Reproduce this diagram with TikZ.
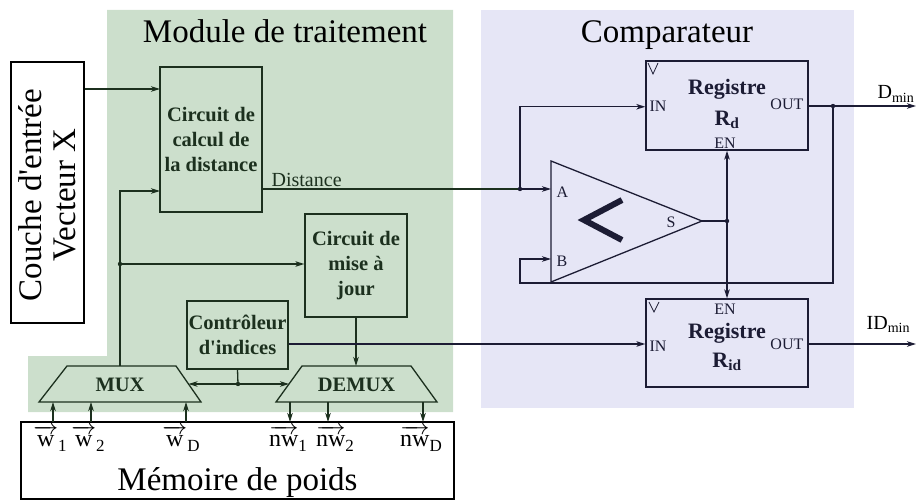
\documentclass[tikz,border=0pt]{standalone}
\usepackage{fontspec}
\setmainfont{Liberation Serif}
\usepackage{amsmath}
\usetikzlibrary{arrows.meta}
\definecolor{grn}{RGB}{204,223,204}
\definecolor{blu}{RGB}{230,230,246}
\definecolor{lg}{RGB}{28,48,30}
\definecolor{lb}{RGB}{28,28,52}
\newcommand\vlab[2]{$\overrightarrow{\text{#1}}$\raisebox{-5pt}{\fontsize{17}{17}\selectfont #2}}
\newcommand\ap{\textquotesingle}
\begin{document}
\begin{tikzpicture}[x=1pt,y=-1pt,line width=1.3pt,
  arr/.style={-{Stealth[length=9pt,width=5.5pt,inset=2.5pt]}},
  darr/.style={{Stealth[length=9pt,width=5.5pt,inset=2.5pt]}-{Stealth[length=9pt,width=5.5pt,inset=2.5pt]}},
  box/.style={draw,inner sep=0pt,align=center},
  bt/.style={font=\bfseries\fontsize{20.5}{25}\selectfont},
  big/.style={font=\fontsize{33}{34}\selectfont,inner sep=0pt},
  mid/.style={font=\fontsize{20}{24}\selectfont,inner sep=0pt},
  wl/.style={font=\fontsize{24}{26}\selectfont,inner sep=0pt},
  sm/.style={font=\fontsize{16}{18}\selectfont,inner sep=0pt},
  rg/.style={font=\bfseries\fontsize{22}{26}\selectfont,inner sep=0pt},
  clk/.style={line width=0.8pt}]
\useasboundingbox (0,0) rectangle (917,500);
% backgrounds
\fill[grn] (107,10) -- (453,10) -- (453,412) -- (28,412) -- (28,356) -- (107,356) -- cycle;
\fill[blu] (481,10) rectangle (854,408);
\node[big,anchor=base] (tmod) at (285,43) {Module de traitement};
\node[big,anchor=base] (tcmp) at (667,43) {Comparateur};

% input layer
\node[box,draw=black,fill=white,minimum width=73pt,minimum height=261pt] (couche) at (47.5,192.5) {};
\node[big,rotate=90,align=center] (tcouche) at (47,195) {Couche d\ap entrée\\Vecteur X};

% processing module
\begin{scope}[draw=lg,color=lg]
\node[box,bt,minimum width=102pt,minimum height=145pt] (calc) at (211,139.5) {Circuit de\\calcul de\\la distance};
\node[box,bt,minimum width=102pt,minimum height=103pt] (mise) at (356,265.5) {Circuit de\\mise à\\jour};
\node[box,bt,minimum width=101pt,minimum height=68pt] (ctrl) at (237.5,335) {Contrôleur\\d\ap indices};
\draw (67,366) -- (176,366) -- (201,402) -- (39,402) -- cycle;
\node[bt,inner sep=0pt] (mux) at (120,385) {MUX};
\draw (302,366) -- (411,366) -- (437,402) -- (276,402) -- cycle;
\node[bt,inner sep=0pt] (demux) at (356.5,385) {DEMUX};
\coordinate (muxtop) at (120,366);
\coordinate (muxr) at (188.5,384);
\coordinate (demuxl) at (289,384);
\coordinate (demuxtop) at (356,366);
\coordinate (j1) at (120,264);
\coordinate (cin1) at (160,89);
\coordinate (cin2) at (160,191);
\coordinate (cj) at (238,384);
\end{scope}

% memory
\node[box,draw=black,minimum width=433pt,minimum height=77pt] (mem) at (237.5,460.5) {};
\node[big,anchor=base] (tmem) at (237.5,490) {Mémoire de poids};
\foreach \x/\n in {53/a,91/b,186/c}{
  \coordinate (mu\n) at (\x,402);
  \coordinate (mm\n) at (\x,422);
}
\foreach \x/\n in {290/a,328/b,423/c}{
  \coordinate (du\n) at (\x,402);
  \coordinate (dm\n) at (\x,422);
}
\node[wl,anchor=base] (w1) at (50,446) {\vlab{w}{1}};
\node[wl,anchor=base] (w2) at (88,446) {\vlab{w}{2}};
\node[wl,anchor=base] (wd) at (181,446) {\vlab{w}{D}};
\node[wl,anchor=base] (nw1) at (288,446) {\vlab{nw}{1}};
\node[wl,anchor=base] (nw2) at (335,446) {\vlab{nw}{2}};
\node[wl,anchor=base] (nwd) at (421,446) {\vlab{nw}{D}};

% comparator
\begin{scope}[draw=lb,color=lb]
\node[box,minimum width=162pt,minimum height=89pt] (rd) at (727,105.5) {};
\node[box,minimum width=162pt,minimum height=88pt] (rid) at (727,343) {};
\node[rg,anchor=base] (trd1) at (727,95) {Registre};
\node[rg,anchor=base] (trd2) at (727,125) {R\textsubscript{d}};
\node[rg,anchor=base] (trid1) at (727,338) {Registre};
\node[rg,anchor=base] (trid2) at (727,367) {R\textsubscript{id}};
\node[sm,anchor=base] (rden) at (725,148) {EN};
\node[sm,anchor=base] (riden) at (725,314) {EN};
\node[sm,anchor=base west] (rdin) at (649,112) {IN};
\node[sm,anchor=base west] (ridin) at (649,351) {IN};
\node[sm,anchor=base east] (rdout) at (804,110) {OUT};
\node[sm,anchor=base east] (ridout) at (804,349) {OUT};
\draw[clk] (648,63) -- (653,74) -- (658,63);
\draw[clk] (649,302) -- (654,312) -- (659,302);
% comparator triangle
\draw (551,161) -- (702,221) -- (551,282) -- cycle;
\draw[line width=6pt,miter limit=10] (622,200) -- (584,220) -- (622,240);
\node[sm,anchor=base west] (la) at (556,197) {A};
\node[sm,anchor=base west] (lbb) at (556,266) {B};
\node[sm,anchor=base west] (ls) at (666,227) {S};
\coordinate (ca) at (551,189);
\coordinate (cb) at (551,259);
\coordinate (cs) at (702,221);
\coordinate (ja) at (520,189);
\coordinate (js) at (727,221);
\coordinate (jo) at (833,106);
\coordinate (dout) at (916,106);
\coordinate (idout) at (916,344);
\end{scope}

% connectors
\draw[arr,draw=lg] (couche.east |- cin1) -- (cin1);
\draw[arr,draw=lg] (muxtop) -- (muxtop |- cin2) -- (cin2);
\draw[arr,draw=lg] (j1) -- (mise.west |- j1);
\fill[lg] (j1) circle (2.2pt);
\draw[arr,draw=lg] (mise.south -| demuxtop) -- (demuxtop);
\draw[draw=lg] (ctrl.south |- ctrl.south) -- (cj);
\draw[darr,draw=lg] (muxr) -- (demuxl);
\fill[lg] (cj) circle (2.2pt);
\foreach \n in {a,b,c}{
  \draw[arr,draw=lg] (mm\n) -- (mu\n);
  \draw[arr,draw=lg] (du\n) -- (dm\n);
}
\draw[draw=lg] (calc.east |- ja) -- (ja);
\node[mid,anchor=base west,color=lg] (tdist) at (271,186) {Distance};
\draw[arr,draw=lb] (ja) -- (ca);
\draw[arr,draw=lb] (ja) -- (ja |- rdin.west) -- (rd.west |- rdin.west);
\fill[lb] (ja) circle (2.2pt);
\draw[draw=lb] (cs) -- (js);
\draw[arr,draw=lb] (js) -- (rd.south -| js);
\draw[arr,draw=lb] (js) -- (rid.north -| js);
\fill[lb] (js) circle (2.2pt);
\draw[arr,draw=lb] (rd.east |- jo) -- (dout);
\draw[arr,draw=lb] (jo) -- (jo |- 0,283) -- (ja |- 0,283) -- (ja |- cb) -- (cb);
\fill[lb] (jo) circle (2.2pt);
\draw[arr,draw=lb] (ctrl.east |- idout) -- (rid.west |- idout);
\draw[arr,draw=lb] (rid.east |- idout) -- (idout);
\node[mid,anchor=base west] (tdmin) at (877,99) {D\textsubscript{min}};
\node[mid,anchor=base west] (tidmin) at (866,329) {ID\textsubscript{min}};
\end{tikzpicture}
\end{document}
